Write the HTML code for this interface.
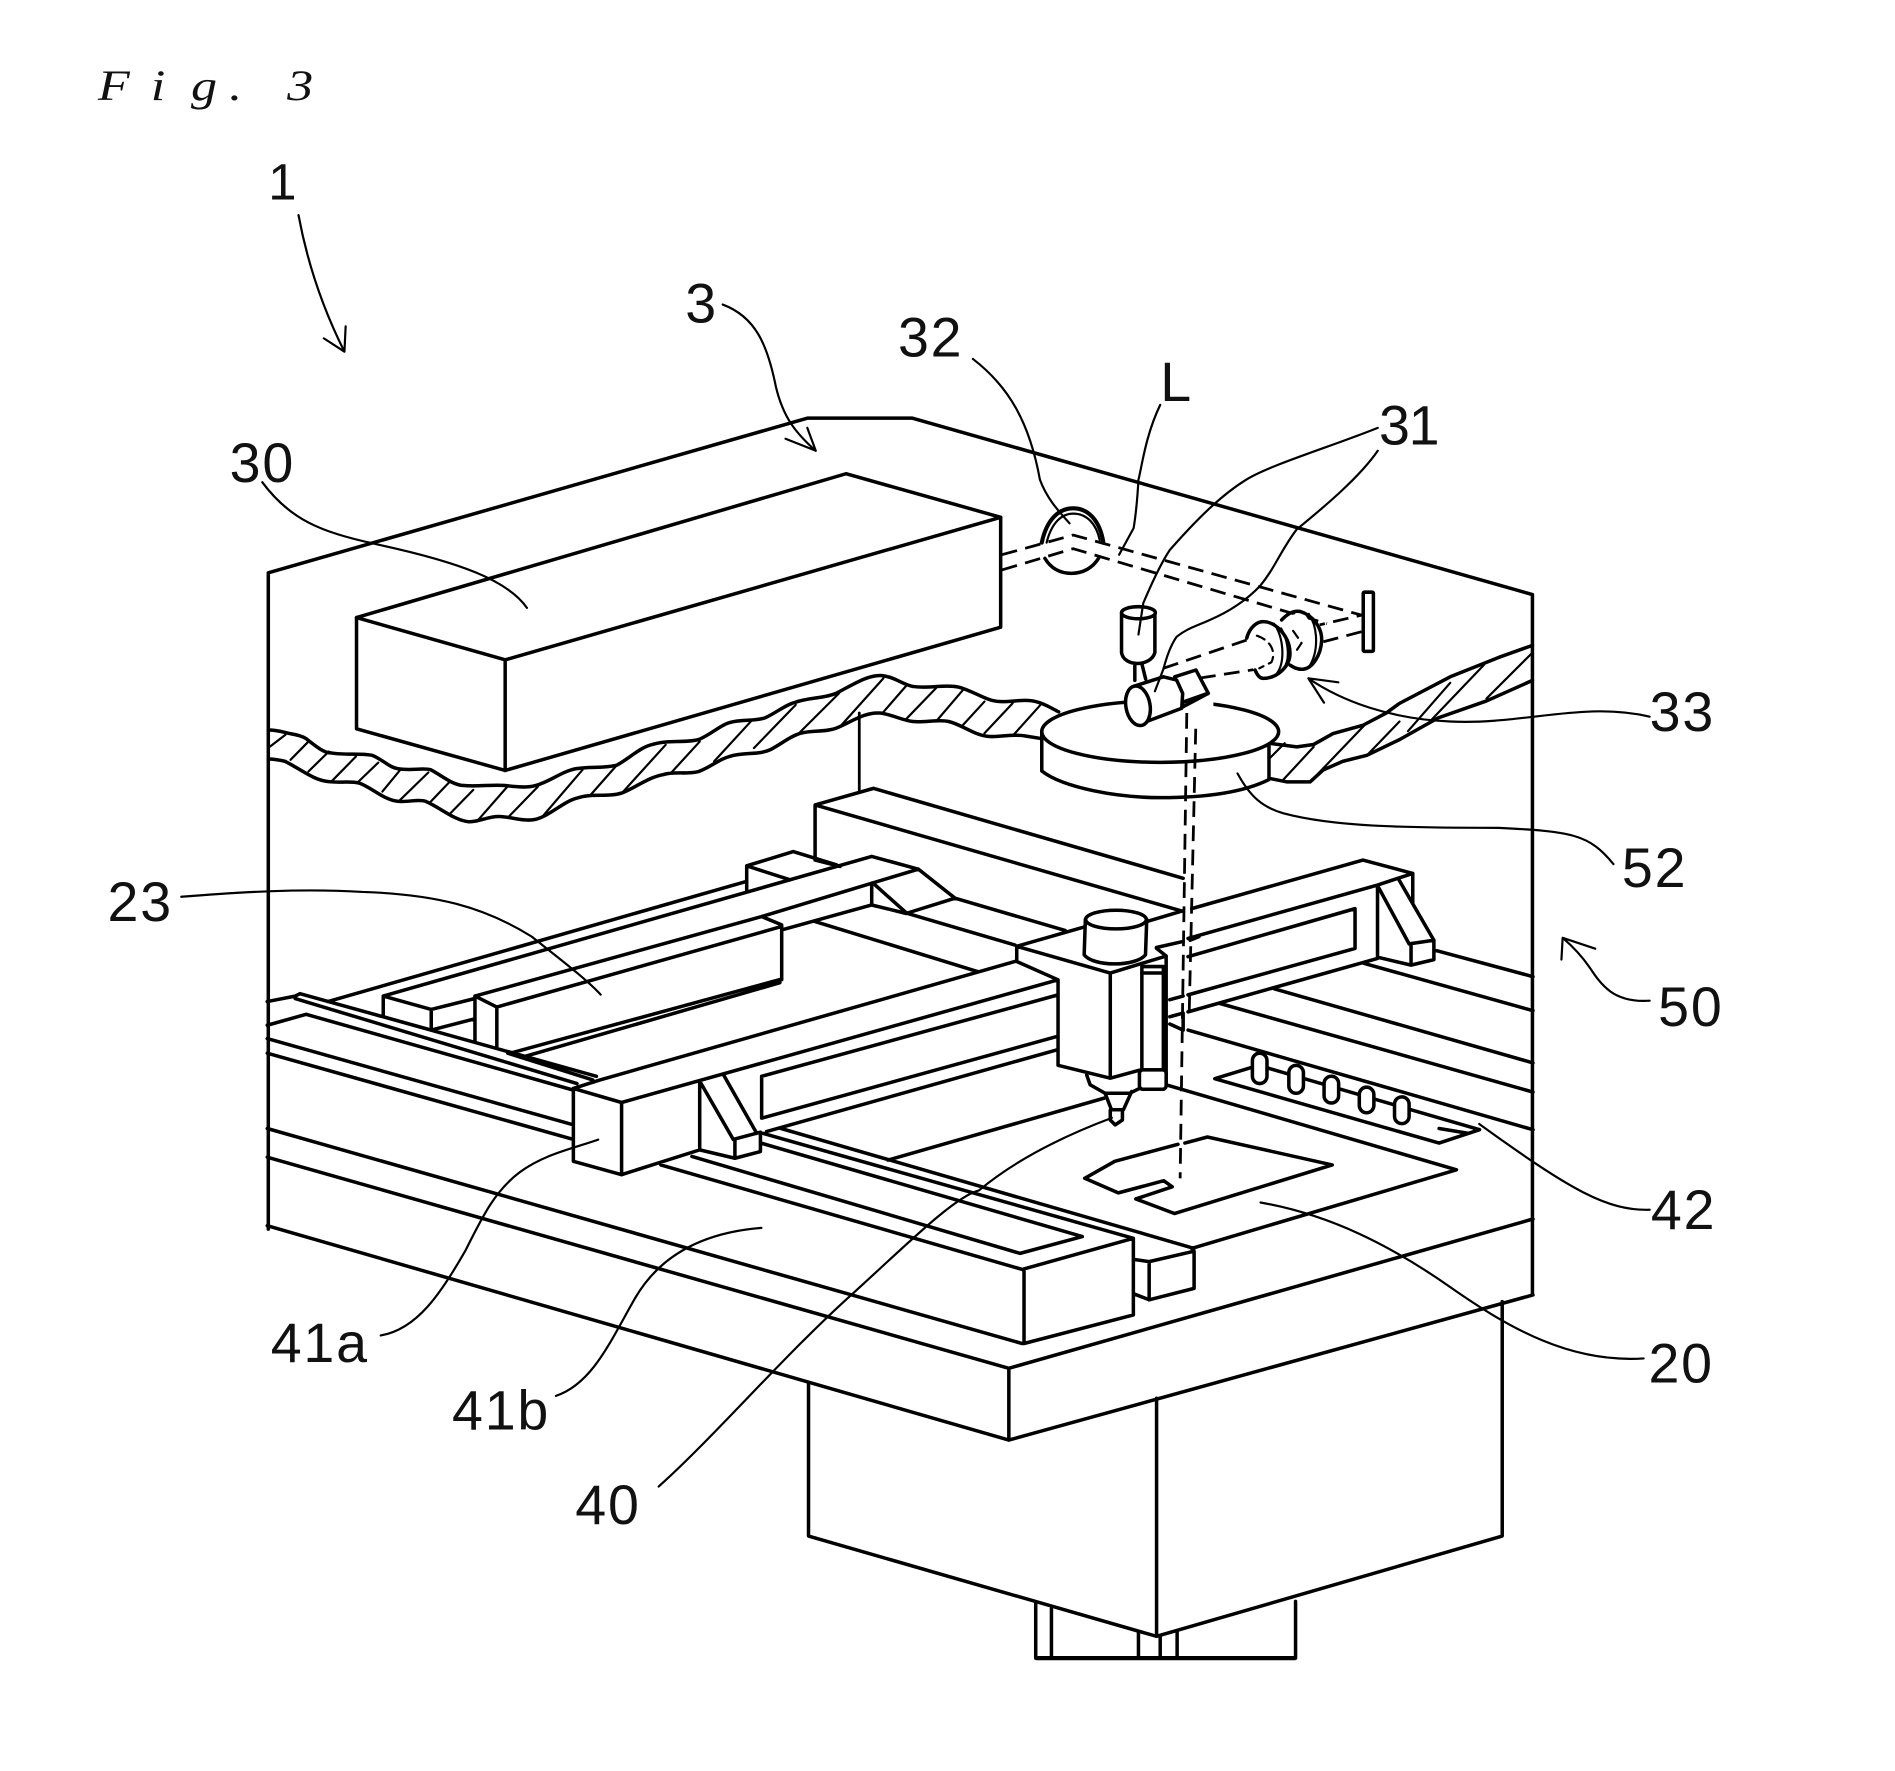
<!DOCTYPE html>
<html><head><meta charset="utf-8"><title>Fig. 3</title>
<style>html,body{margin:0;padding:0;background:#fff}svg{display:block}
text{font-family:"Liberation Sans",sans-serif;font-size:46px;fill:#111;letter-spacing:1.5px}
.s{fill:none;stroke:#000;stroke-width:2.9;stroke-linejoin:round;stroke-linecap:round}
.t{fill:none;stroke:#000;stroke-width:1.8;stroke-linecap:round;stroke-linejoin:round}
.w{fill:#fff;stroke:#000;stroke-width:2.9;stroke-linejoin:round}
.d{fill:none;stroke:#000;stroke-width:2.3;stroke-dasharray:13 7}
</style></head><body>
<svg xmlns="http://www.w3.org/2000/svg" width="1895" height="1771" viewBox="0 0 1568 1465.4">

<!-- wave band hatching -->
<path class="t" d="M223.5,617.7 L236.2,608 M240.4,628.7 L255.2,613.6 M255.2,638.4 L272.1,621.8 M274.2,646.7 L294.5,626 M295.3,648 L313,631 M316.4,655 L331.2,637 M331.2,661.8 L354.4,639.2 M356.5,663.2 L372.2,646.7 M372.2,673.4 L391.6,653.6 M394.5,679.8 L419.9,650.8 M421.1,675.6 L445.2,650.8 M449.4,675 L482,637 M488.7,657.7 L510.6,632.9 M515.7,655 L550.8,616.3 M555,639.8 L579,613.6 M590.9,630 L622.5,595.6 M623.8,619 L658.4,583.2 M661.8,606 L694.3,573.6 M696.4,599.8 L731,561.2 M730.2,590 L750.5,566.7 M749.2,595.6 L774.5,569.4 M774.5,597 L796.9,570.8 M796.9,599.8 L814.6,580.5 M814.6,606.7 L837.9,581.9 M837.9,608.9 L861,583.2
M1051,627 L1063,615 M1062,645 L1087,618 M1087,644 L1131,598 M1131,625 L1158,597 M1165,605 L1200,565 M1185,595 L1228,550 M1230,578 L1268,540"/>
<path class="s" d="M222,604 C230,604 235,606 240,607 C246,608 250,609 253,611 C262,618 268,623 274,623 C285,625 298,623 308,625 C316,628 322,635 329,636 C340,638 350,635 356.5,637 C366,642 375,650 384,650 C395,651 408,649 418,650 C428,651 436,652 443,650 C455,647 465,638 477,636 C488,634 500,636 510.6,633 C520,628 530,618 540,616 C552,612 566,615 578,612 C588,608 596,600 603.5,598 C613,595 624,597 633,594 C642,590 650,583 658.4,581 C670,577 682,578 692,573.6 C705,567 718,558 730,559 C740,560 748,567 755.5,568 C768,570 782,566 793.5,568.6 C806,572 816,580 827,580.5 C838,581 848,578 857,580.5 C864,582 870,586 876,589"/>
<path class="s" d="M222,628 C228,628 232,629 236,630 C248,636 260,646 272,646.7 C280,648 290,646 297.4,648 C308,652 318,662 329,663 C337,664 346,661 352,663 C364,668 376,679 388,680 C397,680 405,675 413.5,675.6 C423,676 434,680 443,678 C455,675 465,664 477,660.5 C490,656 503,660 515,656 C527,651 537,643 548.6,641 C558,638 568,641 578,638.4 C588,635 595,628 603.5,626 C615,622 627,625 637,620.5 C646,616 654,609 662.6,606.7 C672,604 683,606 692,602.5 C705,597 716,589 728,590 C738,591 746,596 755.5,597 C765,598 776,595 785,597 C797,600 807,609 818.8,609.4 C828,610 838,607 848.4,609 L861,611"/>
<path class="s" d="M1050,615 L1073,618 L1087,616 L1103,607 L1128,600 L1147,590 L1158,582 L1200,560 L1240,544 L1268,534 M1050,644 L1065,647 L1084,647 L1095,637 L1111,630 L1131,625 L1158,612 L1190,594 L1230,580 L1268,563"/>

<!-- enclosure -->
<path class="s" d="M222,474 L668,346 L755,346 L1268,492 M222,474 V1017 M1268,492 V1071"/>
<path class="t" d="M711,590 V654" style="stroke-width:2.3"/>

<!-- laser box -->
<path class="w" d="M295,511 L700,392 L828,428 V519 L418,637.5 L295,603 Z"/>
<path class="s" d="M295,511 L418,546 L828,428 M418,546 V637.5"/>

<!-- structure (group A) -->
<g transform="scale(1.00513)">
<path class="s" d="M220,824.5 L243,820 L247,818 L491,886 M243,822 L475,892 M270,824.5 L613,726 M315.5,820 L717.6,705 M391,820 L627,754.5 M409,829 L643.5,762.7 M420,867 L643.5,806 M431,870 L642,809
M315.5,837 V820 L355,831 V848 M355,831 L391,822 M355,848 L389.6,839 M391,820 L409,829 M391,820 V857 M409,829 V863 M315.5,837 L355,848 M627,754.5 L643.5,761.4 V806.6 M418,867 L488,889
M220,844 L252,835 L470.6,897 M220,855 L472,926 M220,867 L472,938 M220,929 L841.5,1106 M220,952.6 L830.5,1126.4 M220,1009 L830.5,1185.5
M472,896 L511.7,907.6 V967 L472,956 Z M472,896 L494,889 L835.6,791.5 M511.7,907.6 L871,806.6
M576,890 L603.6,938 M595.7,885 L623,933 M603.6,938 L626,932 V948 L605,953.5 V938 M576,890 V946.6 L605,953.5 M511.7,967 L576,946.6 M631,931.5 L871,864 M627,886 L871,819 M627,886 V920.5 L871,853
M544,959 L841.5,1045 M569.6,952 L839.7,1031.8 L891,1018 L626.5,941 M628,933 L933,1019.4 M643,929 L983,1027.7 M731,955 L909,904
M841.5,1045 L933,1019.4 V1082.5 L843,1106 V1045 M933,1036.7 L946,1038.6 L983,1030 V1060.6 L946,1070 V1038.6 M933,1065 L946,1070
M830.5,1126.4 V1185.5 M830.5,1126.4 L1262,1003.5 M830.5,1185.5 L1262,1066
M671,708 V662.6 L719,649 L974,723 M671,662.6 L973,750 M671,708 L691.6,713.3
M614.7,734 V712.8 L653,701 L688.8,712 M614.7,712.8 L650.4,724.3 M717.6,705 L756,715.5 M627,754.5 L756,715.5 M643.5,765.5 L717.6,745 V727 M718.7,727 L746.4,751.8 M756,715.5 L786.2,739.4 M746.4,751.8 L786.2,739.4 M717.6,745 L746,752 M746.4,751.8 L835.6,778 M786.2,739.4 L876.8,766 M671,758.6 L805.4,800
M837,779 L914,801 M837,779 V791.5 L871,806.6 V877 L914,887.6 L938,881 M914,801 V887.6 M914,801 L960,787 L952,780.6 M960,787 V893 M837,779 L893,763 M944,758.6 L973,750 M952,780 L974,775
M963,823 L974,820 M963,837 L974,834 V848 L963,843 M979.7,774 L987,771
M981,748 L1122,708 L1163,719 M978,772.5 L1134,728.6 L1163,719 M978,787.6 L1115.5,748 V780.8 L978,819 M978,833 L1134,789 M1134,728.6 V789 M1134,729 L1160,777 M1151.5,724 L1163,744 L1180.4,774 M1163,719 V744 M1160,777 L1180.4,774 V790 L1161.6,794.5 V777 M1134,788 L1161.6,794.5
M1180.4,782 L1262,804 M1122.7,793 L1262,832 M1049,814 L1262,875 M1004,826 L1262,899 M978,848 L1262,930
M960,893 L1199,963 L981,1027.7
M1000,888 L1036,877 L1218,930 L1184.7,941 Z M1184.7,929 L1209,933 L1218,930
M893,970 L917.7,956 L969.7,942 M975.4,941 L994,936 L1096.7,959 L966.8,999 L935,987 L965,977 L958,972 L920.6,982 L893,970"/>
<!-- motor -->
<path class="w" d="M893.5,757 L892.5,786 C900,796 935,796 943,786 L944,757 Z"/>
<ellipse class="w" cx="918.7" cy="757" rx="25" ry="7.7"/>
<!-- tube / nozzle -->
<rect class="w" x="940" y="795.7" width="17.7" height="85"/>
<path class="s" d="M940,801 H957.7"/>
<rect class="w" x="938" y="880.7" width="22" height="16" rx="3"/>
<path class="s" d="M894.6,885 L897.4,893 L909.7,900 H930 L938,896 M909.7,900 L915,913.6 H924.8 L931.6,898.6 M914,914 V922 L918,926 L924,922 V914"/>
<!-- pins -->
<rect class="w" x="1031" y="867" width="12" height="25" rx="6"/><rect class="w" x="1061" y="877" width="12" height="23" rx="6"/><rect class="w" x="1090" y="886" width="12" height="22" rx="6"/><rect class="w" x="1119" y="895" width="12" height="21" rx="6"/><rect class="w" x="1148" y="903" width="12" height="22" rx="6"/>
</g>

<!-- pedestal -->
<path class="s" d="M669,1144 V1271 L957,1354 L1243,1271 V1077 M957,1157 V1354"/>
<path class="s" d="M857,1327 V1372 M1072,1325 V1372 M870,1331 V1372 M942,1350 V1372 M960,1354 V1372 M974,1350 V1372"/>
<path d="M857,1372 H1072" stroke="#000" stroke-width="3.5" fill="none"/>

<!-- disk -->
<path class="w" d="M862,605 V638 C880,652 925,660 960,660 C1000,660 1030,655 1050,645 V617 Z"/>
<ellipse class="w" cx="960" cy="605.4" rx="98" ry="25.4"/>
<path d="M930,574 H1004 V586 H930 Z" fill="#fff"/>

<!-- optics -->
<path class="d" d="M829,459 L888,442.7 L1126.6,509 L1092,517 M829,471.6 L888,454 L1098,516 M1126.6,522.7 L1095,531 M962.5,553 L1031.5,529.6 M993,561 L1038,554"/>
<path class="s" d="M862,449 C866,430 876,420.6 888,420.6 C900,420.6 910,430 913,449" style="stroke-width:3.4"/>
<path class="t" d="M866,449 C870,433 878,425 888,425 C899,425 907,433 910,447"/>
<path class="s" d="M864.6,462 C870,471 878,474.4 886.7,474.4 C896,474.4 904,470 909,462"/>
<rect class="w" x="1128" y="490" width="8.4" height="49" rx="1"/>
<!-- lenses -->
<path d="M1060,512 L1078,506 L1094,530 L1078,554 L1062,550 Z" fill="#fff"/>
<path class="s" d="M1060.5,513 C1066,507 1071,505 1076,506 C1086,509 1094,519 1093.6,530 C1093,542 1086,553 1078.4,553.8 C1073,554 1070,552 1067.4,550.3"/>
<path class="t" d="M1083,508 C1091,520 1091,540 1083,552"/>
<path class="t" stroke-dasharray="7 5" d="M1070,522 L1077,532 L1073,538"/>
<path d="M1032,526 L1046,514 L1068,540 L1046,562 L1037,554 Z" fill="#fff"/>
<path class="s" d="M1031.6,528 C1034,519 1040,514.4 1045.3,514.4 C1056,514.4 1067.4,527 1067.4,540.6 C1067.4,552 1056,561.3 1045.3,561.3 C1042,561.3 1040,558 1038.5,554.4"/>
<path class="t" d="M1054,516 C1062,526 1064,548 1056,558 M1060,520 C1066,530 1068,546 1062,553"/>
<path class="t" stroke-dasharray="7 5" d="M1040,526 C1052,530 1056,540 1052,548 L1042,553"/>
<!-- camera -->
<path class="w" d="M928,507 V540 C930,552 952,552 955.6,540 V507 Z"/>
<ellipse class="w" cx="942" cy="507" rx="14" ry="5"/>
<path class="s" d="M939,551 V563 M945,550 L948,562"/>
<!-- tilted lens -->
<path class="w" d="M972,560 L989.6,554.4 L999.8,573.7 L979,584.8 Z"/>
<path class="s" d="M979,581 L999,574" style="stroke-width:3.2"/>
<path class="w" d="M937.8,568 L962.6,560 L973.6,562.7 L978.6,573.7 L977.8,586 L948.8,597 Z"/>
<ellipse class="w" cx="941.6" cy="584" rx="10" ry="16.5" transform="rotate(-10 941.6 584)"/>
<!-- vertical laser -->
<path class="d" d="M982,590 L976.5,975"/>
<path class="d" d="M989.4,603 L984,838"/>

<!-- leads -->
<path class="t" d="M247,178 C252,205 262,245 285,291 M268,280 L285,291 L286,270"/>
<path class="t" d="M598,252 C625,262 635,285 642,320 C648,345 658,358 675,373 M650,363 L675,373 L668,354"/>
<path class="t" d="M805,297 C835,320 852,350 860.5,397 C866,412 875,422 885,433"/>
<path class="t" d="M960,335 C948,360 945,385 942,397 C941,415 940,425 938,437 L926,459"/>
<path class="t" d="M1140,354 C1100,370 1050,385 1031,397 C1010,410 990,430 968,455 C958,470 950,490 946,499 L942,525"/>
<path class="t" d="M1140,373 C1125,395 1095,420 1073,438 C1060,455 1055,470 1042.5,485 C1030,498 1015,507 1001,513 C990,518 982,520 973.5,527 C968,535 965,545 962.5,554 L955.6,572"/>
<path class="t" d="M1082.6,561.3 C1110,580 1150,595 1200,597 C1260,600 1310,580 1365,593 M1082.6,561.3 L1107.4,564.6 M1082.6,561.3 L1095.5,581.4"/>
<path class="t" d="M1335,715 C1315,690 1300,688 1240,685 C1160,685 1103,684 1062,673 C1045,668 1035,660 1024,640"/>
<path class="t" d="M150,742 C200,738 250,735 300,738 C360,740 400,750 440,775 C465,795 485,810 497,823"/>
<path class="t" d="M1365,828 C1335,830 1325,815 1315,800 C1308,790 1300,782 1293,776 M1293,776 L1292,794 M1293,776 L1320,785"/>
<path class="t" d="M1365,1001 C1330,1002 1300,985 1224,930"/>
<path class="t" d="M1360,1124 C1300,1128 1250,1100 1200,1065 C1150,1030 1100,1005 1043,995"/>
<path class="t" d="M315,1105 C345,1100 365,1070 385,1035 C400,1005 410,985 430,970 C450,955 475,950 495,943"/>
<path class="t" d="M460,1155 C490,1145 505,1110 525,1075 C545,1040 580,1020 630,1016"/>
<path class="t" d="M545,1230 C590,1190 650,1120 706,1070 C750,1030 790,990 810,985 C840,960 880,940 920,925"/>
<path class="t" d="M217,399 C240,430 265,440 310,450 C380,465 420,480 436,503"/>

<!-- labels -->
<text x="67.5 104 131.7 158 178 198" y="82.7" transform="scale(1.2 1)" style="font-family:'Liberation Serif',serif;font-style:italic;font-size:36px;letter-spacing:0">Fig. 3</text>
<text x="222" y="165" style="font-size:42px">1</text>
<text x="567" y="267">3</text>
<text x="743" y="295">32</text>
<text x="960" y="332">L</text>
<text x="1141" y="368" style="letter-spacing:-1px">31</text>
<text x="190" y="399">30</text>
<text x="1365" y="605">33</text>
<text x="1342" y="734">52</text>
<text x="89" y="762">23</text>
<text x="1372" y="849">50</text>
<text x="1366" y="1017">42</text>
<text x="1364" y="1144">20</text>
<text x="224" y="1127">41a</text>
<text x="374" y="1183">41b</text>
<text x="476" y="1261">40</text>
</svg>
</body></html>
